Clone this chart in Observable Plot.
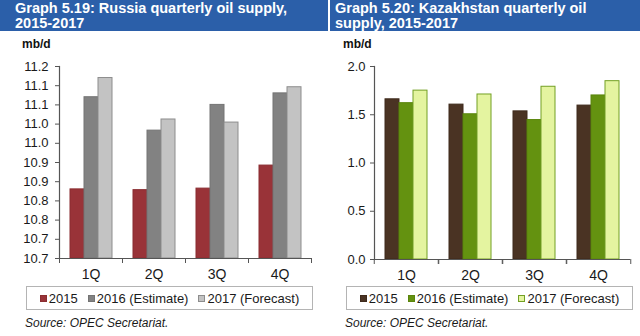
<!DOCTYPE html>
<html><head><meta charset="utf-8">
<script src="https://cdn.jsdelivr.net/npm/d3@7"></script>
<script src="https://cdn.jsdelivr.net/npm/@observablehq/plot@0.6"></script>
<style>
body{margin:0;background:#fff;font-family:"Liberation Sans",Arial,sans-serif;}
#root{position:relative;width:640px;height:336px;overflow:hidden;background:#fff;}
.banner{position:absolute;top:0;height:31px;background:#2b5fa9;color:#fff;font-weight:bold;font-size:14.5px;line-height:15px;white-space:nowrap;box-sizing:border-box;padding-top:1px;}
.unit{position:absolute;top:38px;font-weight:bold;font-size:12px;line-height:12px;color:#111;}
.fig{position:absolute;top:36px;}
.legend{position:absolute;top:286px;height:24px;border:1px solid #b4b4b4;box-sizing:border-box;display:flex;align-items:center;justify-content:center;font-size:13px;color:#1a1a1a;white-space:nowrap;}
.item{display:flex;align-items:center;margin:0 5px;}
.sw{display:inline-block;width:7px;height:7px;margin-right:2px;box-sizing:border-box;}
.src{position:absolute;top:317px;font-style:italic;font-size:12px;line-height:12px;color:#1a1a1a;}
</style></head>
<body><div id="root">
<div class="banner" style="left:0;width:328px;padding-left:15px;">Graph 5.19: Russia quarterly oil supply,<br>2015-2017</div>
<div class="banner" style="left:330px;width:310px;padding-left:5px;">Graph 5.20: Kazakhstan quarterly oil<br>supply, 2015-2017</div>
<div class="unit" style="left:22px;">mb/d</div>
<div class="unit" style="left:343px;">mb/d</div>
<div class="fig" id="ru" style="left:0;"></div>
<div class="fig" id="kz" style="left:329px;"></div>
<div class="legend" id="legRu" style="left:26px;width:287px;"></div>
<div class="legend" id="legKz" style="left:346px;width:287px;"></div>
<div class="src" style="left:25px;">Source: OPEC Secretariat.</div>
<div class="src" style="left:345px;">Source: OPEC Secretariat.</div>
</div>
<script>
const quarters = ["1Q","2Q","3Q","4Q"];
const seriesNames = ["2015","2016 (Estimate)","2017 (Forecast)"];

const russia2015 = [10.880, 10.878, 10.882, 10.942];
const russia2016 = [11.120, 11.033, 11.100, 11.130];
const russia2017 = [11.170, 11.062, 11.054, 11.146];
const russiaTicks = [10.70,10.75,10.80,10.85,10.90,10.95,11.00,11.05,11.10,11.15,11.20];
const russiaTickLabels = ["10.7","10.7","10.8","10.8","10.9","10.9","11.0","11.0","11.1","11.1","11.2"];

const kaz2015 = [1.660, 1.605, 1.535, 1.595];
const kaz2016 = [1.620, 1.505, 1.445, 1.700];
const kaz2017 = [1.750, 1.710, 1.790, 1.848];
const kazTicks = [0, 0.5, 1.0, 1.5, 2.0];
const kazTickLabels = ["0.0","0.5","1.0","1.5","2.0"];

const axisColor = "#555";

function chart(o) {
  const plotW = o.width - o.marginLeft - o.marginRight;
  const half = plotW / quarters.length / 2;
  const base = o.ticks[0];
  const bars = o.values.map((vals, j) => {
    const data = quarters.map((q, i) => ({q, s: seriesNames[j], v: vals[i]}));
    return Plot.barY(data, {fx: "q", x: "s", y1: () => base, y2: "v",
      fill: o.fills[j], stroke: o.strokes[j], strokeWidth: 1});
  });
  return Plot.plot({
    width: o.width, height: o.height,
    marginLeft: o.marginLeft, marginRight: o.marginRight,
    marginTop: o.marginTop, marginBottom: o.marginBottom,
    style: {fontFamily: "'Liberation Sans', Arial, sans-serif", fontSize: "13px", color: "#1a1a1a", background: "transparent", overflow: "visible"},
    fx: {domain: quarters, padding: 0, label: null, axis: null},
    x: {domain: seriesNames, paddingInner: 0, paddingOuter: 0.75, axis: null},
    y: {domain: [o.ticks[0], o.ticks[o.ticks.length - 1]], label: null, axis: null},
    marks: [
      ...bars,
      Plot.ruleY([base], {stroke: axisColor, strokeWidth: 1.2}),
      Plot.frame({anchor: "left", facetAnchor: "left", stroke: axisColor, strokeWidth: 1.2}),
      Plot.axisY({ticks: o.ticks, tickFormat: d => o.labels[o.ticks.indexOf(d)], tickSize: 4, tickPadding: o.tickPadding, label: null, stroke: axisColor}),
      Plot.axisFx({anchor: "bottom", tickSize: 0, tickPadding: 11, label: null, fontSize: 14}),
      Plot.axisFx({anchor: "bottom", tickSize: 5, tickFormat: () => "", dx: -half, label: null, stroke: axisColor}),
      Plot.axisFx([quarters[quarters.length - 1]], {anchor: "bottom", tickSize: 5, tickFormat: () => "", dx: half, label: null, stroke: axisColor})
    ]
  });
}

const ruFills = ["#993338", "#828282", "#c3c3c3"];
const ruStrokes = ["#8a2d31", "#747474", "#8d8d8d"];
const kzFills = ["#4a3323", "#649210", "#e4f4a0"];
const kzStrokes = ["#3e2a1c", "#5a850c", "#73a024"];

document.getElementById("ru").append(chart({
  values: [russia2015, russia2016, russia2017],
  fills: ruFills, strokes: ruStrokes,
  ticks: russiaTicks, labels: russiaTickLabels,
  width: 320, height: 248, marginLeft: 59, marginRight: 9, marginTop: 30, marginBottom: 26, tickPadding: 7
}));
document.getElementById("kz").append(chart({
  values: [kaz2015, kaz2016, kaz2017],
  fills: kzFills, strokes: kzStrokes,
  ticks: kazTicks, labels: kazTickLabels,
  width: 311, height: 248, marginLeft: 44, marginRight: 9, marginTop: 30, marginBottom: 25, tickPadding: 5
}));

function legend(id, fills, strokes) {
  const el = document.getElementById(id);
  seriesNames.forEach((s, j) => {
    const it = document.createElement("span"); it.className = "item";
    const sw = document.createElement("span"); sw.className = "sw";
    sw.style.background = fills[j]; sw.style.border = "1px solid " + strokes[j];
    it.append(sw, document.createTextNode(s));
    el.append(it);
  });
}
legend("legRu", ruFills, ruStrokes);
legend("legKz", kzFills, kzStrokes);
</script>
</body></html>
